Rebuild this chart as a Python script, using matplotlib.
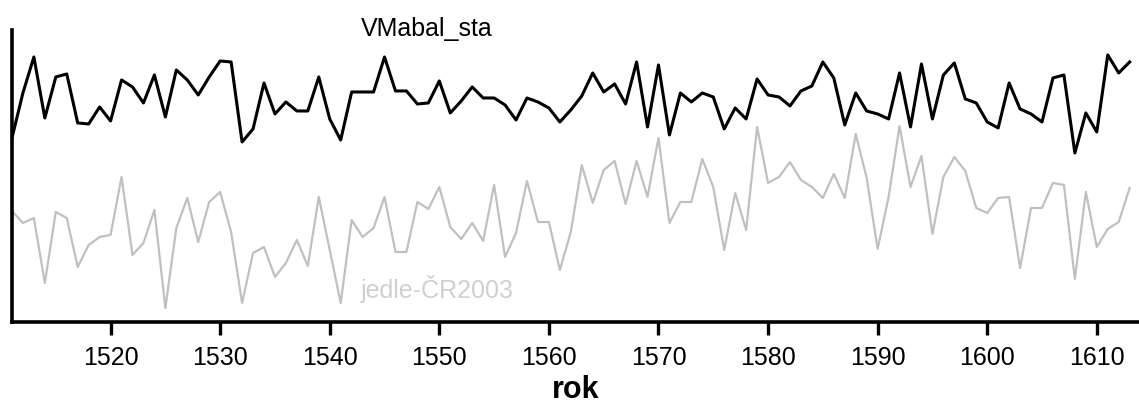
import matplotlib.pyplot as plt
import numpy as np

plt.rcParams['font.family'] = ['Liberation Sans', 'DejaVu Sans']

years = np.arange(1511, 1614)

# VMabal_sta (black), arbitrary units
vmabal = [18.4, 22.9, 26.5, 20.4, 24.5, 24.8, 19.9, 19.8, 21.5, 20.1,
          24.2, 23.5, 21.9, 24.7, 20.5, 25.2, 24.2, 22.7, 24.5, 26.1,
          26.0, 18.0, 19.3, 23.9, 20.8, 22.0, 21.1, 21.1, 24.5, 20.3,
          18.2, 23.0, 23.0, 23.0, 26.5, 23.1, 23.1, 21.8, 21.9, 24.1,
          20.9, 22.1, 23.5, 22.4, 22.4, 21.7, 20.2, 22.4, 22.0, 21.4,
          20.0, 21.2, 22.6, 24.9, 23.0, 23.8, 21.8, 26.0, 19.5, 25.7,
          18.7, 22.9, 22.0, 22.9, 22.5, 19.3, 21.4, 20.3, 24.3, 22.7,
          22.5, 21.6, 23.1, 23.6, 26.0, 24.4, 19.7, 22.9, 21.1, 20.8,
          20.3, 24.9, 19.5, 25.8, 20.3, 24.7, 25.9, 22.3, 21.9, 20.0,
          19.4, 23.9, 21.3, 20.8, 20.0, 24.4, 24.7, 16.9, 20.9, 19.0,
          26.7, 24.9, 26.0]

# jedle-CR2003 (grey)
jedle = [11.1, 9.9, 10.4, 3.9, 11.0, 10.4, 5.5, 7.7, 8.5, 8.7,
         14.5, 6.7, 7.9, 11.2, 1.4, 9.4, 12.4, 8.0, 12.0, 13.0,
         9.0, 1.9, 6.9, 7.5, 4.5, 5.9, 8.2, 5.6, 12.5, 7.2,
         1.9, 10.2, 8.5, 9.4, 12.5, 7.0, 7.0, 12.0, 11.3, 13.5,
         9.5, 8.3, 9.9, 8.1, 13.7, 6.5, 8.9, 14.1, 10.0, 10.0,
         5.2, 9.0, 15.7, 11.9, 15.2, 16.1, 11.8, 16.1, 12.5, 18.4,
         9.9, 12.0, 12.0, 16.3, 13.5, 7.2, 12.9, 9.2, 19.5, 13.9,
         14.5, 16.0, 14.2, 13.5, 12.4, 14.8, 12.4, 18.8, 14.4, 7.3,
         12.5, 19.6, 13.5, 16.6, 8.8, 14.5, 16.5, 15.1, 11.4, 10.9,
         12.4, 12.5, 5.4, 11.4, 11.4, 13.9, 13.7, 4.3, 13.0, 7.5,
         9.3, 10.0, 13.4]

xticks = list(range(1520, 1611, 10))

fig = plt.figure(figsize=(11.39, 4.05), dpi=100)
ax = fig.add_axes([0.0105, 0.205, 0.989, 0.721])

ax.plot(years, jedle, color='#c0c0c0', lw=1.6)
ax.plot(years, vmabal, color='black', lw=2.2)

ax.set_xlim(1511, 1613.8)
ax.set_ylim(0, 29.2)
ax.set_xticks(xticks)
ax.set_yticks([])

for s in ['top', 'right']:
    ax.spines[s].set_visible(False)
for s in ['left', 'bottom']:
    ax.spines[s].set_linewidth(2.6)

ax.tick_params(axis='x', length=9, width=2.4, labelsize=18, pad=8)
ax.set_xlabel('rok', fontsize=22, fontweight='bold', labelpad=4)

# series names
ax.text(1542.8, 28.6, 'VMabal_sta', fontsize=18, ha='left', va='baseline')
ax.text(1542.8, 2.4, 'jedle-ČR2003', fontsize=18, color='#d0d0d0',
        ha='left', va='baseline')

plt.savefig('out.png', dpi=100)
